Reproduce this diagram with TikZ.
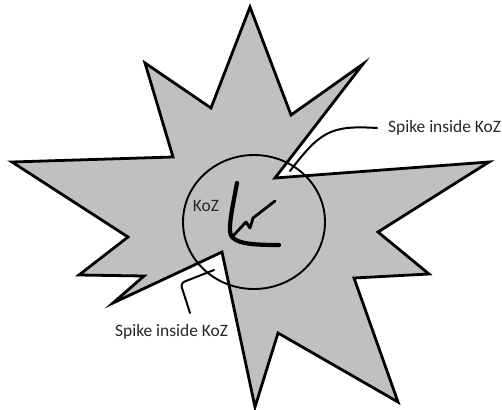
\documentclass[tikz,border=0pt]{standalone}
\usepackage{fontspec}
\setmainfont{Carlito}
\usetikzlibrary{positioning}

\definecolor{starfill}{RGB}{192,192,192}

\begin{document}
\begin{tikzpicture}[
    x=1pt, y=-1pt,
    star/.style={draw, line width=2.8pt, fill=starfill, line join=miter},
    zone/.style={draw, line width=1.9pt},
    hookline/.style={line width=4.2pt, line cap=round, line join=round},
    callout/.style={line width=2pt, line cap=round, line join=round},
    lbl/.style={text=black!85, font=\fontsize{17.4}{19}\selectfont, inner sep=0pt}
]
    \useasboundingbox (0,0) rectangle (502,409);

    % the star with its two spikes
    \draw[star] (250,7) -- (291,115) -- (363,64) -- (275,178) -- (489,162)
        -- (378,232) -- (429,274) -- (354,278) -- (398,402) -- (278,333)
        -- (255,407) -- (222,252) -- (113,303) -- (144,276) -- (79,275)
        -- (128,237) -- (12,162) -- (173,157) -- (145,63) -- (211,108) -- cycle;

    % keep-out zone
    \draw[zone] (254,222) ellipse [x radius=71, y radius=67];
    \node[lbl] (koz) at (206,206) {KoZ};

    \draw[hookline] (237,183) .. controls (232,210) and (227,232) .. (232,237)
        .. controls (238,244) and (255,245) .. (279,245);
    \draw[hookline, line width=2.8pt] (275,201) -- (253,218) -- (250,228) -- (246,222) -- (233,236);

    % labels
    \node[lbl, anchor=west] (spikeA) at (388,128) {Spike inside KoZ};
    \node[lbl, anchor=west] (spikeB) at (115,332) {Spike inside KoZ};

    \coordinate (tipA) at (290,171);
    \coordinate (tipB) at (214,270);
    \coordinate (endB) at (190,313);

    \draw[callout] (spikeA.west) ++(-11,0) .. controls (330,125) and (320,132) .. (tipA);
    \draw[callout] (tipB) -- (186,281) .. controls (182,282) and (181,285) .. (182,288) -- (endB);
\end{tikzpicture}
\end{document}
